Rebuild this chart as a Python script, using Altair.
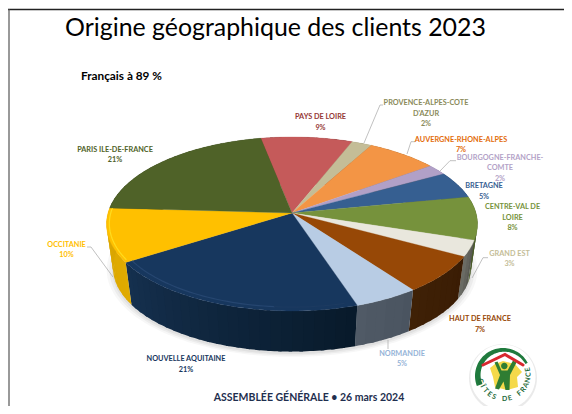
import math
import altair as alt

# ---------- chart values ----------
regions = ["PAYS DE LOIRE", "PROVENCE-ALPES-COTE D'AZUR", "AUVERGNE-RHONE-ALPES", "BOURGOGNE-FRANCHE-COMTE",
           "BRETAGNE", "CENTRE-VAL DE LOIRE", "GRAND EST", "HAUT DE FRANCE", "NORMANDIE",
           "NOUVELLE AQUITAINE", "OCCITANIE", "PARIS ILE-DE-FRANCE"]
shares = [9, 2, 7, 2, 5, 8, 3, 7, 5, 21, 10, 21]
top_colors = ["#c55a5a", "#c4bd97", "#f39545", "#b1a0c7", "#365f91", "#76923c", "#e9e7dd", "#974806",
              "#b8cce4", "#17375e", "#ffc000", "#4f6228"]
wall_right = ["#7a3a38", "#7a7660", "#94602d", "#6f6480", "#223b5c", "#37461c", "#55564f", "#3a1c04",
              "#4a5460", "#081a2a", "#e0ab00", "#2f3a18"]
wall_left = ["#7a3a38", "#7a7660", "#94602d", "#6f6480", "#223b5c", "#4a5c28", "#6e6f68", "#3f2106",
             "#505a66", "#15304f", "#d9a500", "#2f3a18"]
label_colors = ["#953735", "#8a8a5a", "#e36c0a", "#b3a2c7", "#366092", "#76923c", "#c4bd97", "#974806",
                "#95b3d7", "#17375e", "#ffc000", "#4f6228"]
label_lines = [
    (320.5, [(117, "PAYS DE LOIRE"), (127.5, "9%")]),
    (426, [(103.3, "PROVENCE-ALPES-COTE"), (113.5, "D'AZUR"), (124, "2%")]),
    (461, [(139.5, "AUVERGNE-RHONE-ALPES"), (150, "7%")]),
    (500, [(157.7, "BOURGOGNE-FRANCHE-"), (168, "COMTE"), (178.5, "2%")]),
    (484, [(186, "BRETAGNE"), (196.5, "5%")]),
    (512.5, [(207, "CENTRE-VAL DE"), (217.5, "LOIRE"), (228, "8%")]),
    (509.5, [(253.7, "GRAND EST"), (264, "3%")]),
    (480, [(319, "HAUT DE FRANCE"), (329.5, "7%")]),
    (402, [(354, "NORMANDIE"), (364, "5%")]),
    (186, [(359, "NOUVELLE AQUITAINE"), (369.5, "21%")]),
    (66.5, [(245, "OCCITANIE"), (255, "10%")]),
    (115, [(150, "PARIS ILE-DE-FRANCE"), (160, "21%")]),
]
leaders = [
    [(383, 105), (380, 105), (364, 143)],
    [(415, 141.7), (411, 141.7), (407, 154)],
    [(456, 160.7), (450, 160.7), (440, 171)],
    [(488, 257.7), (483, 257.7), (472, 278)],
    [(388, 340), (388, 349)],
    [(87, 247), (91, 247), (113, 277)],
]
title_text = "Origine géographique des clients 2023"
sub_text = "Français à 89 %"
foot_text = "ASSEMBLÉE GÉNÉRALE • 26 mars 2024"
logo_text = "GÎTES DE FRANCE"

# ---------- pie geometry (perspective disc) ----------
CX, CY, A, B, K = 292, 213, 184, 85.6, 0.1263
START = -11
S_BOTTOM, DZ = 0.965, 44


def pt(t, r=1.0, s=1.0, dz=0.0):
    a = math.radians(t)
    X, Y = r * math.sin(a), -r * math.cos(a)
    w = 1 - K * Y
    return [CX + A * s * X / w, CY + B * s * Y / w + dz]


def arc(t0, t1, step=1.5, **kw):
    n = max(2, int(abs(t1 - t0) / step) + 1)
    return [pt(t0 + (t1 - t0) * i / (n - 1), **kw) for i in range(n)]


def feat(coords, fill, op=1.0, kind="Polygon"):
    geom = coords if kind == "LineString" else [coords + [coords[0]]]
    return {"type": "Feature", "geometry": {"type": kind, "coordinates": geom},
            "properties": {"fill": fill, "op": op}}


def mix(c0, c1, f):
    a = [int(c0[i:i + 2], 16) for i in (1, 3, 5)]
    b = [int(c1[i:i + 2], 16) for i in (1, 3, 5)]
    return "#%02x%02x%02x" % tuple(round(x + (y - x) * f) for x, y in zip(a, b))


bounds = [START]
for v in shares:
    bounds.append(bounds[-1] + v * 3.6)

shadow, walls, tops = [], [], []
for grow, op in ((1.035, 0.06), (1.02, 0.08), (1.005, 0.10)):
    shadow.append(feat(arc(60, 300, s=S_BOTTOM * grow, dz=DZ + 2), "#777777", op))
for i, col in enumerate(top_colors):
    t0, t1 = bounds[i], bounds[i + 1]
    tops.append(feat([[CX, CY]] + arc(t0, t1), col))
    n = max(1, int((t1 - t0) / 3))
    for j in range(n):
        a, b = t0 + (t1 - t0) * j / n, t0 + (t1 - t0) * (j + 1) / n
        if j < n - 1:
            b += 1.0
        poly = arc(a, b, step=1) + arc(b, a, step=1, s=S_BOTTOM, dz=DZ)
        walls.append(feat(poly, mix(wall_right[i], wall_left[i], (j + .5) / n)))

rims = [feat(arc(239, 273, r=0.985), "#ffdc1e", kind="LineString"),
        feat(arc(185, 237, r=0.965), "#264670", kind="LineString"),
        feat(arc(165, 185, r=0.965), "#1c3a60", kind="LineString")]

# ---------- logo (decoration) ----------
LX, LY = 503, 376


def circle(cx, cy, r):
    return [[cx + r * math.cos(math.radians(d)), cy + r * math.sin(math.radians(d))] for d in range(0, 360, 6)]


def logo_arc(a0, a1, r_out, w0, w1):
    n = 60
    outer, inner = [], []
    for i in range(n + 1):
        f = i / n
        a = math.radians(a0 + (a1 - a0) * f)
        w = w0 + (w1 - w0) * f
        outer.append([LX + r_out * math.sin(a), LY - r_out * math.cos(a)])
        inner.append([LX + (r_out - w) * math.sin(a), LY - (r_out - w) * math.cos(a)])
    return outer + inner[::-1]


france = [(490, 368), (495, 364), (503, 361), (515, 364), (522, 372), (517, 377), (518, 387), (507, 390),
          (495, 387), (493, 377)]
person = [(494.5, 362.5), (497.5, 361.5), (501.5, 370.5), (507.5, 370.5), (513, 360.5), (516.5, 362.5),
          (510, 375), (509.5, 390), (505.5, 390), (503.5, 381.5), (499, 389.5), (495, 388.5), (500, 375)]
logo_shapes = [
    feat(circle(503, 378, 34), "#aaaaaa", 0.25),
    feat(circle(503, 377, 32.5), "#ffffff"),
    feat(logo_arc(-111, 62, 28, 6, 2.5), "#1f7a3d"),
    feat([list(p) for p in france], "#f5d94a"),
    feat(circle(504.3, 366, 3.2), "#2f7d32"),
    feat([list(p) for p in person], "#2f7d32"),
]
roof = [feat([[483, 365], [505, 354.5], [523, 365]], "#d8282f", kind="LineString")]

letters = []
nch = len(logo_text)
for i, ch in enumerate(logo_text):
    phi = -74 + 176 * i / (nch - 1)
    a = math.radians(phi)
    letters.append({"x": 504 + 24.5 * math.sin(a), "y": 374.5 + 24.5 * math.cos(a), "t": ch, "ang": (-phi) % 360})

# ---------- layers ----------
LEFT_PX, RIGHT_PX, TOP_PX, BOTTOM_PX = 8, 564, 8, 406
X = lambda: alt.X("x:Q", scale=alt.Scale(domain=[LEFT_PX, RIGHT_PX], nice=False, zero=False), axis=None)
Y = lambda: alt.Y("y:Q", scale=alt.Scale(domain=[BOTTOM_PX, TOP_PX], nice=False, zero=False), axis=None)
PROJ = dict(type="identity", scale=1, translate=[-8, -8])


def shapes(features, sw=0.0):
    return (alt.Chart(alt.Data(values=features)).mark_geoshape(strokeWidth=sw)
            .encode(fill=alt.Fill("properties.fill:N", scale=None),
                    stroke=alt.Stroke("properties.fill:N", scale=None),
                    opacity=alt.Opacity("properties.op:Q", scale=None))
            .project(**PROJ))


def strokes(features, sw):
    return (alt.Chart(alt.Data(values=features)).mark_geoshape(filled=False, strokeWidth=sw, strokeCap="round")
            .encode(stroke=alt.Stroke("properties.fill:N", scale=None))
            .project(**PROJ))


def lines(rows, color, width):
    return (alt.Chart(alt.Data(values=rows)).mark_line(color=color, strokeWidth=width, interpolate="linear", clip=True)
            .encode(x=X(), y=Y(), detail="id:N", order="i:Q"))


def texts(rows, **kw):
    return (alt.Chart(alt.Data(values=rows)).mark_text(**kw)
            .encode(x=X(), y=Y(), text="t:N", color=alt.Color("c:N", scale=None)))


label_rows = []
for (cx, ls), col in zip(label_lines, label_colors):
    for y, t in ls:
        label_rows.append({"x": cx, "y": y, "t": t, "c": col})

leader_rows = [{"id": n, "i": i, "x": p[0], "y": p[1]} for n, l in enumerate(leaders) for i, p in enumerate(l)]
frame_top = [{"id": 0, "i": 0, "x": LEFT_PX, "y": 9.5}, {"id": 0, "i": 1, "x": RIGHT_PX, "y": 9.5}]
frame_left = [{"id": 1, "i": 0, "x": 9, "y": 9}, {"id": 1, "i": 1, "x": 9, "y": BOTTOM_PX}]

letter_layer = (alt.Chart(alt.Data(values=letters))
                .mark_text(font="Lato", fontWeight="bold", fontSize=7, color="#1f6b3a", baseline="middle", align="center")
                .encode(x=X(), y=Y(), text="t:N", angle=alt.Angle("ang:Q", scale=None)))

chart = alt.layer(
    lines(frame_top, "#222222", 1.4),
    lines(frame_left, "#555555", 1.2),
    shapes(shadow),
    shapes(walls),
    shapes(tops, 0.3),
    strokes(rims, 1.2),
    lines(leader_rows, "#a6a6a6", 0.7),
    texts(label_rows, font="Lato", fontWeight="bold", fontSize=7.3, align="center", baseline="middle"),
    texts([{"x": 65, "y": 36, "t": title_text, "c": "#000000"}], font="Lato", fontSize=24.9, align="left", baseline="alphabetic"),
    texts([{"x": 81, "y": 80, "t": sub_text, "c": "#000000"}], font="Lato", fontWeight="bold", fontSize=11.8, align="left", baseline="alphabetic"),
    texts([{"x": 309, "y": 398, "t": foot_text, "c": "#1f2f4f"}], font="Lato", fontWeight="bold", fontSize=10.5, align="center", baseline="middle"),
    shapes(logo_shapes),
    strokes(roof, 3),
    letter_layer,
).properties(width=556, height=398, padding=0, autosize="none").configure_view(stroke=None)

chart.save("out.html", embed_options={"renderer": "svg", "actions": False})
